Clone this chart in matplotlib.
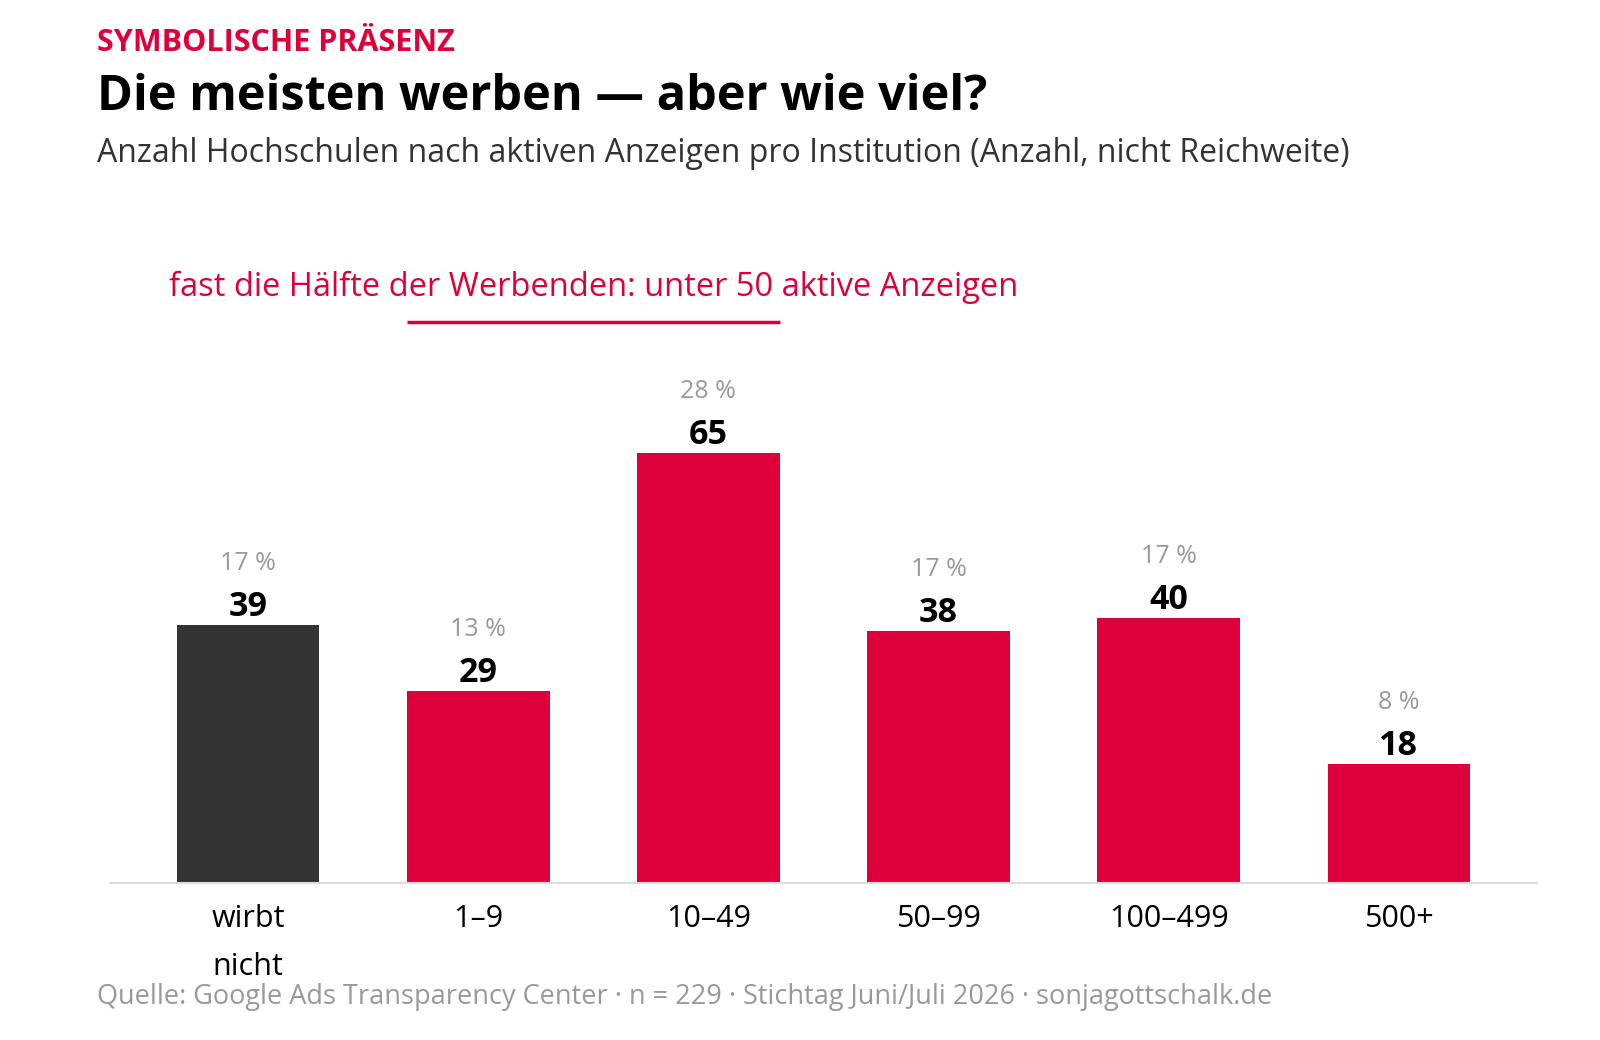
import matplotlib.pyplot as plt
import numpy as np

plt.rcParams['font.family'] = ['Open Sans', 'DejaVu Sans']

# Data
categories = ['wirbt\nnicht', '1–9', '10–49', '50–99', '100–499', '500+']
counts = [39, 29, 65, 38, 40, 18]
percents = [17, 13, 28, 17, 17, 8]

RED = '#DE003A'
DARK = '#333333'
W, H = 1600, 1040


def fx(px):
    return px / W


def fy(py):
    return 1 - py / H


fig = plt.figure(figsize=(16, 10.4), dpi=100)
ax = fig.add_axes([fx(110), fy(883), fx(1537) - fx(110), fy(287) - fy(883)])

x = np.arange(len(categories))
colors = [DARK] + [RED] * (len(categories) - 1)
bar_w = 0.62
ax.bar(x, counts, width=bar_w, color=colors, zorder=2)

for xi, c, p in zip(x, counts, percents):
    ax.annotate(str(c), (xi, c), xytext=(0, 6.5), textcoords='offset points',
                ha='center', va='baseline', fontsize=24.5, fontweight='bold', color='black')
    ax.annotate(f'{p} %', (xi, c), xytext=(0, 39.5), textcoords='offset points',
                ha='center', va='baseline', fontsize=18, color='#999999')

ax.set_xlim(-0.6, 5.6)
ax.set_ylim(0, 90)
ax.set_yticks([])
ax.set_xticks(x)
ax.set_xticklabels(categories, fontsize=22, linespacing=1.8)
ax.tick_params(axis='x', length=0, pad=15)
for s in ['top', 'right', 'left']:
    ax.spines[s].set_visible(False)
ax.spines['bottom'].set_color('#dddddd')
ax.spines['bottom'].set_linewidth(1.5)

# bracket over the low-volume groups
ax.plot([1 - bar_w / 2, 2 + bar_w / 2], [84.7, 84.7], color=RED, lw=2.5,
        clip_on=False, solid_capstyle='butt')
ax.text(1.5, (883 - 296) / 6.62, 'fast die Hälfte der Werbenden: unter 50 aktive Anzeigen',
        ha='center', va='baseline', fontsize=23.5, color=RED)

# header
fig.text(fx(97), fy(51), 'SYMBOLISCHE PRÄSENZ', fontsize=22, fontweight='bold',
         color=RED, va='baseline')
fig.text(fx(97), fy(110), 'Die meisten werben — aber wie viel?', fontsize=35,
         fontweight='bold', color='black', va='baseline')
fig.text(fx(97), fy(162), 'Anzahl Hochschulen nach aktiven Anzeigen pro Institution (Anzahl, nicht Reichweite)',
         fontsize=23, color='#333333', va='baseline')

# footer
fig.text(fx(97), fy(1004),
         'Quelle: Google Ads Transparency Center · n = 229 · Stichtag Juni/Juli 2026 · sonjagottschalk.de',
         fontsize=19.5, color='#999999', va='baseline')

plt.savefig('out.png', dpi=100)
